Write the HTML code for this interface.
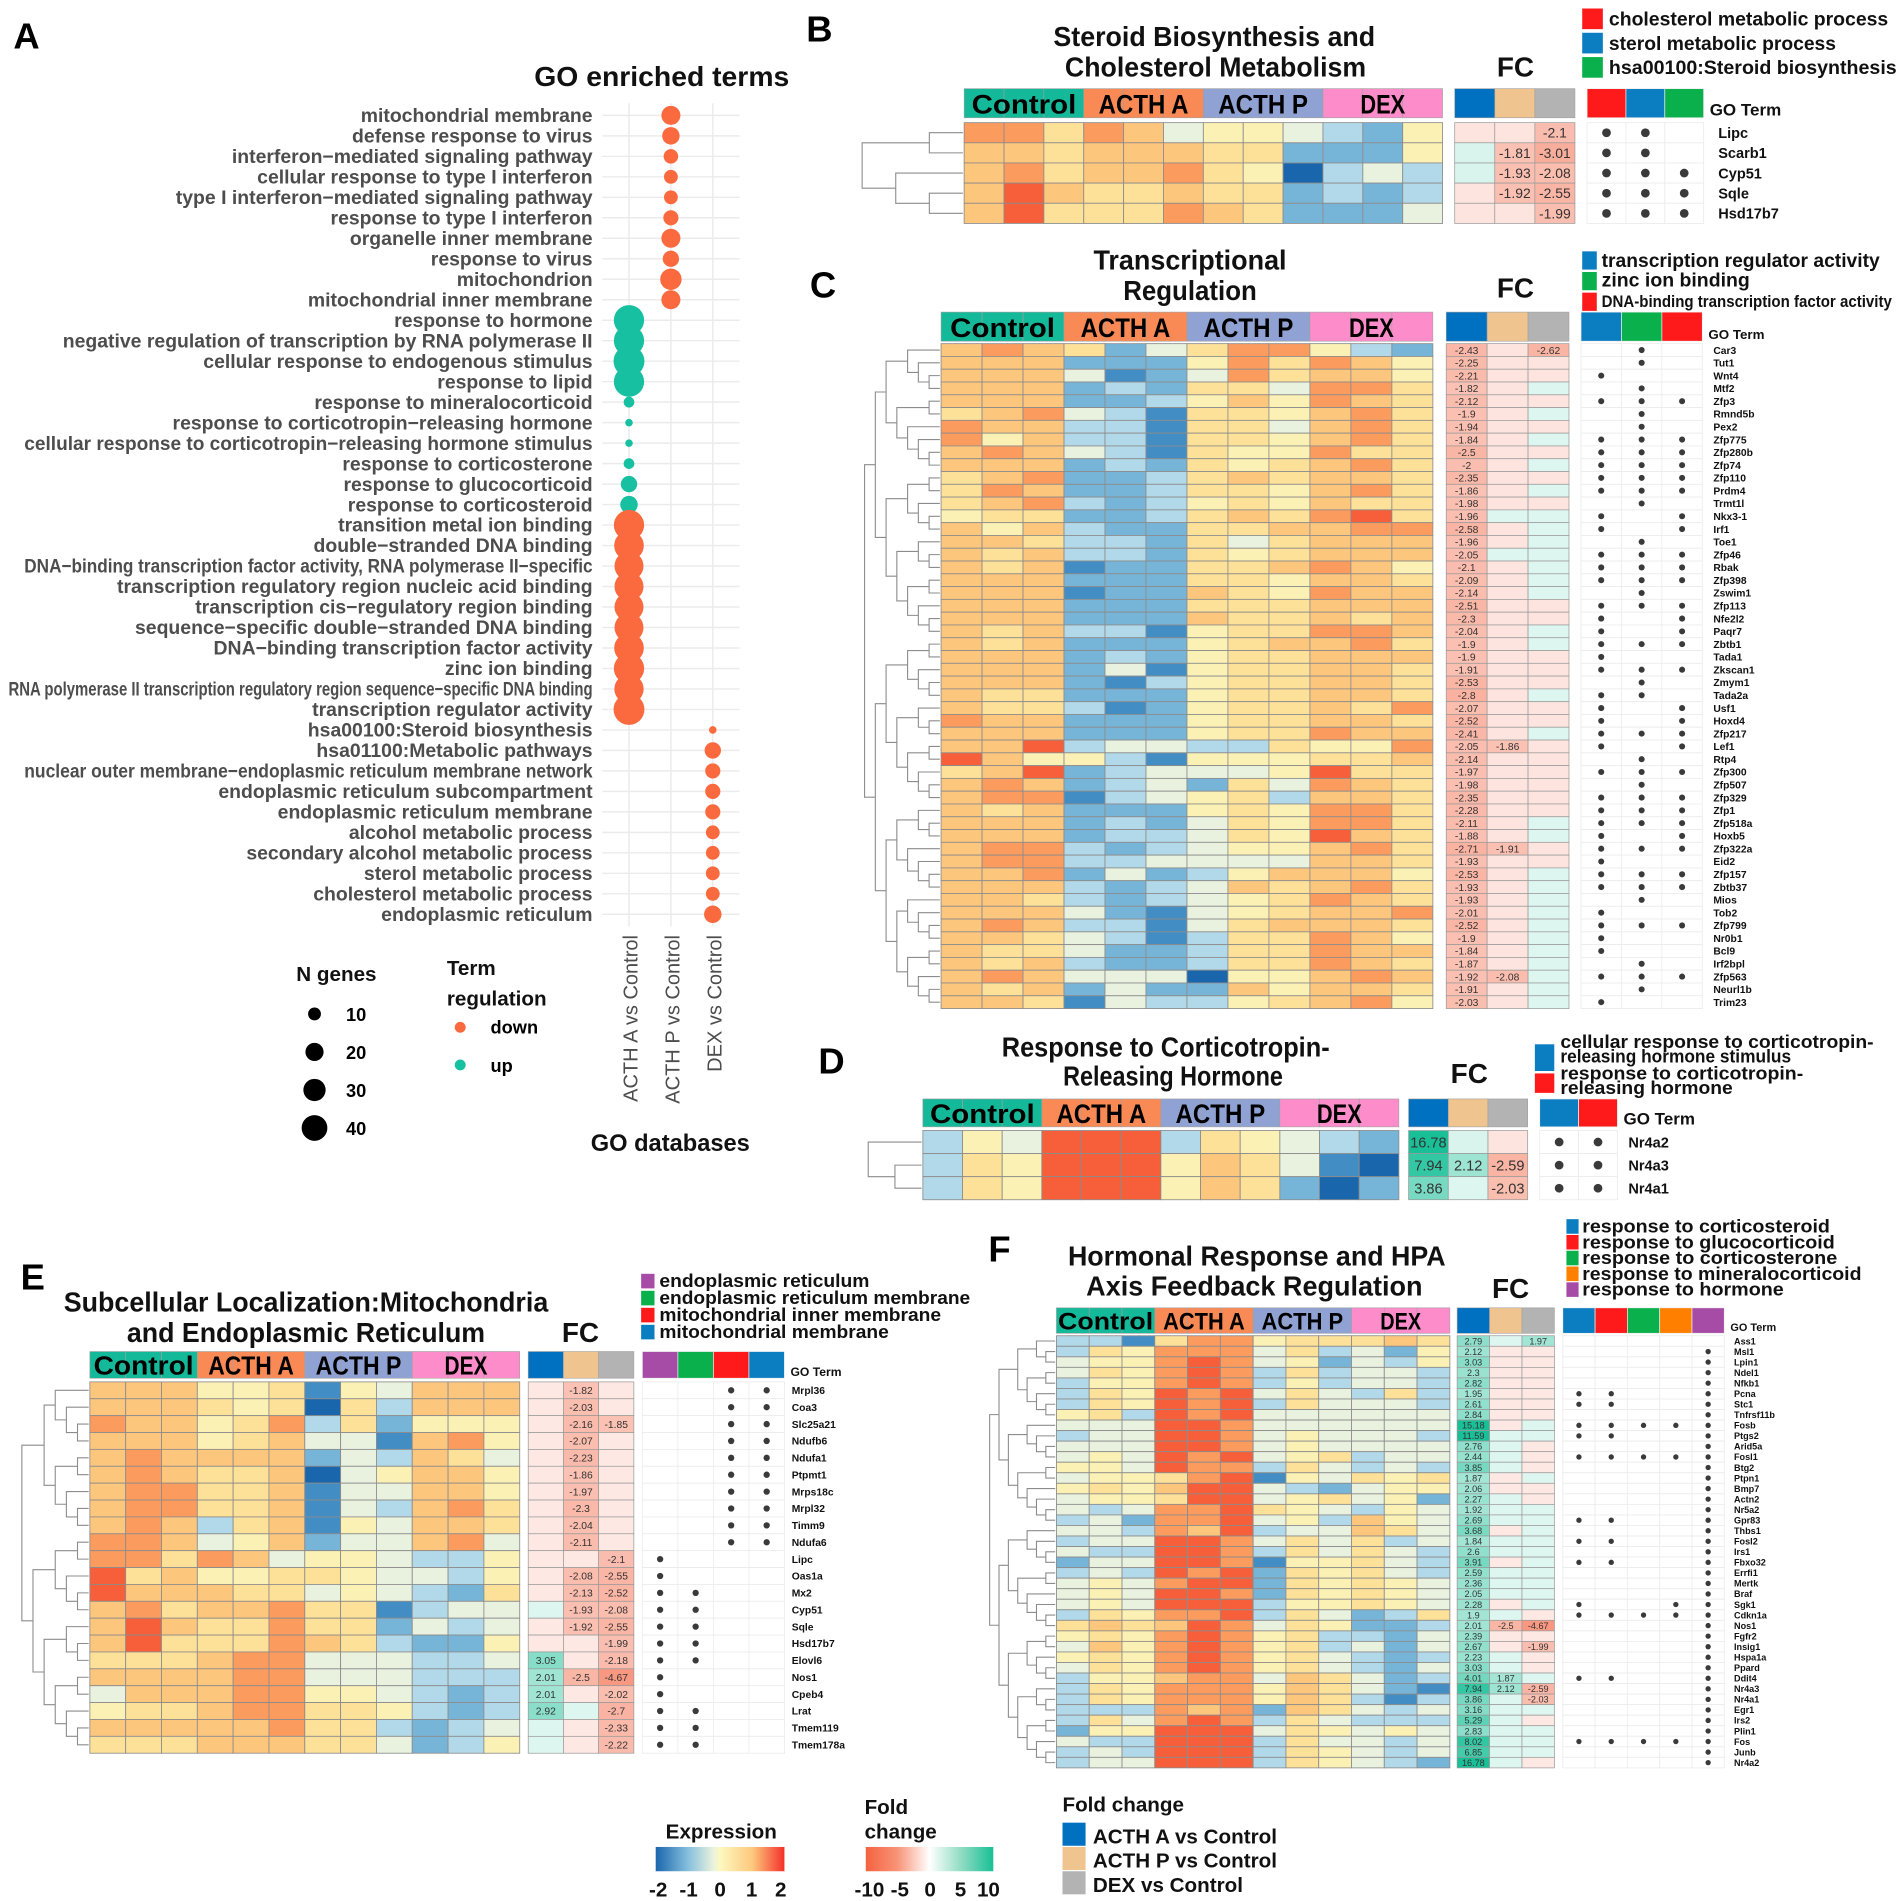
<!DOCTYPE html>
<html><head><meta charset="utf-8">
<style>
html,body{margin:0;padding:0;background:#fff;}
svg{display:block;font-family:"Liberation Sans",Arial,sans-serif;}
.pl{font-weight:bold;font-size:30px;fill:#000;}
.ti{font-weight:bold;font-size:23px;fill:#111;}
.lg{font-weight:bold;fill:#111;}
.al{font-weight:bold;font-size:16px;fill:#4d4d4d;}
</style></head>
<body>
<svg id="chart" xmlns="http://www.w3.org/2000/svg" width="1904" height="1901" viewBox="0 0 1568 1565.5" preserveAspectRatio="none">
<defs>
<linearGradient id="gExpr" x1="0" x2="1" y1="0" y2="0">
<stop offset="0" stop-color="#1a66ac"/><stop offset="0.25" stop-color="#85bfdd"/><stop offset="0.45" stop-color="#eaf3dd"/><stop offset="0.5" stop-color="#fdf8c0"/><stop offset="0.75" stop-color="#fdc97d"/><stop offset="1" stop-color="#f4302a"/>
</linearGradient>
<linearGradient id="gFc" x1="0" x2="1" y1="0" y2="0">
<stop offset="0" stop-color="#f4623f"/><stop offset="0.25" stop-color="#f89478"/><stop offset="0.5" stop-color="#ffffff"/><stop offset="0.75" stop-color="#8fdcc3"/><stop offset="1" stop-color="#19bf96"/>
</linearGradient>
</defs>

<!-- panel letters -->
<text class="pl" x="11" y="40">A</text>
<text class="pl" x="664" y="34">B</text>
<text class="pl" x="667" y="245">C</text>
<text class="pl" x="674" y="884">D</text>
<text class="pl" x="17" y="1062">E</text>
<text class="pl" x="814" y="1039">F</text>

<!-- Panel A static -->
<text class="ti" x="545" y="71" text-anchor="middle" font-size="24" textLength="210" lengthAdjust="spacingAndGlyphs">GO enriched terms</text>
<text class="lg" x="552" y="948" text-anchor="middle" font-size="19.5">GO databases</text>
<text class="lg" x="244" y="808" font-size="17">N genes</text>
<text class="lg" x="368" y="803" font-size="17">Term</text>
<text class="lg" x="368" y="828" font-size="17">regulation</text>

<!-- Panel titles -->
<g>
<text class="ti" x="1000" y="38" text-anchor="middle" textLength="265" lengthAdjust="spacingAndGlyphs">Steroid Biosynthesis and</text>
<text class="ti" x="1001" y="63" text-anchor="middle" textLength="248" lengthAdjust="spacingAndGlyphs">Cholesterol Metabolism</text>
<text class="ti" x="1248" y="63" text-anchor="middle">FC</text>
<text class="ti" x="980" y="222" text-anchor="middle" textLength="159" lengthAdjust="spacingAndGlyphs">Transcriptional</text>
<text class="ti" x="980" y="247" text-anchor="middle" textLength="110" lengthAdjust="spacingAndGlyphs">Regulation</text>
<text class="ti" x="1248" y="245" text-anchor="middle">FC</text>
<text class="ti" x="960" y="870" text-anchor="middle" textLength="270" lengthAdjust="spacingAndGlyphs">Response to Corticotropin-</text>
<text class="ti" x="966" y="894" text-anchor="middle" textLength="181" lengthAdjust="spacingAndGlyphs">Releasing Hormone</text>
<text class="ti" x="1210" y="892" text-anchor="middle">FC</text>
<text class="ti" x="252" y="1080" text-anchor="middle" textLength="399" lengthAdjust="spacingAndGlyphs">Subcellular Localization:Mitochondria</text>
<text class="ti" x="252" y="1105" text-anchor="middle" textLength="295" lengthAdjust="spacingAndGlyphs">and Endoplasmic Reticulum</text>
<text class="ti" x="478" y="1105" text-anchor="middle">FC</text>
<text class="ti" x="1035" y="1042" text-anchor="middle" textLength="311" lengthAdjust="spacingAndGlyphs">Hormonal Response and HPA</text>
<text class="ti" x="1033" y="1067" text-anchor="middle" textLength="277" lengthAdjust="spacingAndGlyphs">Axis Feedback Regulation</text>
<text class="ti" x="1244" y="1069" text-anchor="middle">FC</text>
</g>

<!-- GO legends -->
<g class="lg" font-size="16">
<rect x="1303" y="7" width="17" height="17" fill="#fe1a1a"/>
<text x="1325" y="21" textLength="230" lengthAdjust="spacingAndGlyphs">cholesterol metabolic process</text>
<rect x="1303" y="27" width="17" height="17" fill="#0b7dc1"/>
<text x="1325" y="41" textLength="187" lengthAdjust="spacingAndGlyphs">sterol metabolic process</text>
<rect x="1303" y="47" width="17" height="17" fill="#0ab04b"/>
<text x="1325" y="61" textLength="237" lengthAdjust="spacingAndGlyphs">hsa00100:Steroid biosynthesis</text>

<rect x="1303" y="207" width="12" height="15" fill="#0b7dc1"/>
<text x="1319" y="220" textLength="229" lengthAdjust="spacingAndGlyphs">transcription regulator activity</text>
<rect x="1303" y="224" width="12" height="15" fill="#0ab04b"/>
<text x="1319" y="236" textLength="122" lengthAdjust="spacingAndGlyphs">zinc ion binding</text>
<rect x="1303" y="241" width="12" height="15" fill="#fe1a1a"/>
<text x="1319" y="253" font-size="14" textLength="239" lengthAdjust="spacingAndGlyphs">DNA-binding transcription factor activity</text>

<rect x="1264" y="860" width="16" height="22" fill="#0b7dc1"/>
<text x="1285" y="863" font-size="15" textLength="258" lengthAdjust="spacingAndGlyphs">cellular response to corticotropin-</text>
<text x="1285" y="875" font-size="15" textLength="190" lengthAdjust="spacingAndGlyphs">releasing hormone stimulus</text>
<rect x="1264" y="884" width="16" height="16" fill="#fe1a1a"/>
<text x="1285" y="889" font-size="15" textLength="200" lengthAdjust="spacingAndGlyphs">response to corticotropin-</text>
<text x="1285" y="901" font-size="15" textLength="142" lengthAdjust="spacingAndGlyphs">releasing hormone</text>

<rect x="528" y="1049" width="11" height="12" fill="#a64ca6"/>
<text x="543" y="1060" font-size="15.5" textLength="173" lengthAdjust="spacingAndGlyphs">endoplasmic reticulum</text>
<rect x="528" y="1063" width="11" height="12" fill="#0ab04b"/>
<text x="543" y="1074" font-size="15.5" textLength="256" lengthAdjust="spacingAndGlyphs">endoplasmic reticulum membrane</text>
<rect x="528" y="1077" width="11" height="12" fill="#fe1a1a"/>
<text x="543" y="1088" font-size="15.5" textLength="232" lengthAdjust="spacingAndGlyphs">mitochondrial inner membrane</text>
<rect x="528" y="1091" width="11" height="12" fill="#0b7dc1"/>
<text x="543" y="1102" font-size="15.5" textLength="189" lengthAdjust="spacingAndGlyphs">mitochondrial membrane</text>

<rect x="1290" y="1004" width="10" height="12" fill="#0b7dc1"/>
<text x="1303" y="1015" font-size="15" textLength="204" lengthAdjust="spacingAndGlyphs">response to corticosteroid</text>
<rect x="1290" y="1017" width="10" height="12" fill="#fe1a1a"/>
<text x="1303" y="1028" font-size="15" textLength="208" lengthAdjust="spacingAndGlyphs">response to glucocorticoid</text>
<rect x="1290" y="1030" width="10" height="12" fill="#0ab04b"/>
<text x="1303" y="1041" font-size="15" textLength="210" lengthAdjust="spacingAndGlyphs">response to corticosterone</text>
<rect x="1290" y="1043" width="10" height="12" fill="#ff8000"/>
<text x="1303" y="1054" font-size="15" textLength="230" lengthAdjust="spacingAndGlyphs">response to mineralocorticoid</text>
<rect x="1290" y="1056" width="10" height="12" fill="#a64ca6"/>
<text x="1303" y="1067" font-size="15" textLength="166" lengthAdjust="spacingAndGlyphs">response to hormone</text>
</g>

<!-- bottom legends -->
<g class="lg" font-size="17">
<text x="594" y="1514" text-anchor="middle">Expression</text>
<rect x="540" y="1521" width="106" height="20" fill="url(#gExpr)"/>
<text x="542" y="1562" text-anchor="middle">-2</text>
<text x="567" y="1562" text-anchor="middle">-1</text>
<text x="593" y="1562" text-anchor="middle">0</text>
<text x="619" y="1562" text-anchor="middle">1</text>
<text x="643" y="1562" text-anchor="middle">2</text>
<text x="712" y="1494">Fold</text>
<text x="712" y="1514">change</text>
<rect x="713" y="1521" width="105" height="20" fill="url(#gFc)"/>
<text x="716" y="1562" text-anchor="middle">-10</text>
<text x="741" y="1562" text-anchor="middle">-5</text>
<text x="766" y="1562" text-anchor="middle">0</text>
<text x="791" y="1562" text-anchor="middle">5</text>
<text x="814" y="1562" text-anchor="middle">10</text>
<text x="875" y="1492">Fold change</text>
<rect x="875" y="1501" width="19" height="19" fill="#0070c0"/>
<text x="900" y="1518">ACTH A vs Control</text>
<rect x="875" y="1521" width="19" height="19" fill="#f0c48f"/>
<text x="900" y="1538">ACTH P vs Control</text>
<rect x="875" y="1541" width="19" height="19" fill="#b3b3b3"/>
<text x="900" y="1558">DEX vs Control</text>
</g>
</svg>

<script>
// ===== Panel A data =====
const goTerms = ["mitochondrial membrane","defense response to virus","interferon\u2212mediated signaling pathway","cellular response to type I interferon","type I interferon\u2212mediated signaling pathway","response to type I interferon","organelle inner membrane","response to virus","mitochondrion","mitochondrial inner membrane","response to hormone","negative regulation of transcription by RNA polymerase II","cellular response to endogenous stimulus","response to lipid","response to mineralocorticoid","response to corticotropin\u2212releasing hormone","cellular response to corticotropin\u2212releasing hormone stimulus","response to corticosterone","response to glucocorticoid","response to corticosteroid","transition metal ion binding","double\u2212stranded DNA binding","DNA\u2212binding transcription factor activity, RNA polymerase II\u2212specific","transcription regulatory region nucleic acid binding","transcription cis\u2212regulatory region binding","sequence\u2212specific double\u2212stranded DNA binding","DNA\u2212binding transcription factor activity","zinc ion binding","RNA polymerase II transcription regulatory region sequence\u2212specific DNA binding","transcription regulator activity","hsa00100:Steroid biosynthesis","hsa01100:Metabolic pathways","nuclear outer membrane\u2212endoplasmic reticulum membrane network","endoplasmic reticulum subcompartment","endoplasmic reticulum membrane","alcohol metabolic process","secondary alcohol metabolic process","sterol metabolic process","cholesterol metabolic process","endoplasmic reticulum"];
const goComparison = [1,1,1,1,1,1,1,1,1,1,0,0,0,0,0,0,0,0,0,0,0,0,0,0,0,0,0,0,0,0,2,2,2,2,2,2,2,2,2,2];
const goDirection = ["down","down","down","down","down","down","down","down","down","down","up","up","up","up","up","up","up","up","up","up","down","down","down","down","down","down","down","down","down","down","down","down","down","down","down","down","down","down","down","down"];
const goGenes = [19,16,11,10,10,12,19,14,24,19,48,48,50,48,6,3,3,6,14,16,48,46,44,44,44,44,46,48,45,50,3,14,12,12,12,10,10,10,10,16];
const comparisonLabels = ["ACTH A vs Control","ACTH P vs Control","DEX vs Control"];
const sizeLegendValues = [10,20,30,40];

// ===== Heatmap data (digits 0..9 map to z-score -2..2) =====
const bGenes = ["Lipc","Scarb1","Cyp51","Sqle","Hsd17b7"];
const bExpr = ["886874554325","776777662225","786778650343","797667662323","796668762224"];
const bFC1 = [-0.4,0.4,0.4,-0.4,-0.4];
const bFC2 = [-0.4,-1.81,-1.93,-1.92,-0.4];
const bFC3 = [-2.1,-3.01,-2.08,-2.55,-1.99];
const bGO = ["110","110","111","111","111"];

const cGenes = ["Car3","Tut1","Wnt4","Mtf2","Zfp3","Rmnd5b","Pex2","Zfp775","Zfp280b","Zfp74","Zfp110","Prdm4","Trmt1l","Nkx3-1","Irf1","Toe1","Zfp46","Rbak","Zfp398","Zswim1","Zfp113","Nfe2l2","Paqr7","Zbtb1","Tada1","Zkscan1","Zmym1","Tada2a","Usf1","Hoxd4","Zfp217","Lef1","Rtp4","Zfp300","Zfp507","Zfp329","Zfp1","Zfp518a","Hoxb5","Zfp322a","Eid2","Zfp157","Zbtb37","Mios","Tob2","Zfp799","Nr0b1","Bcl9","Irf2bpl","Zfp563","Neurl1b","Trim23"];
const cExpr = ["787624688532","777222586875","777412486775","777232664886","777223575876","678431665786","877331664786","857331665786","787431655866","777232656786","678223676776","687223665786","678323565766","566223676896","757322667788","776332646777","767332656777","767122667875","777222665776","777122765877",
"777222666777","777222766767","767331566887","767222567786","777232566777","777241566776","777213566776","766222566776","766312566768","877222566776","777222566877","779344336558","975531555667","679234445966","787234264876","788134563776","767222565886","777232465886","777233465976","788323455786","788334444776","778242357775","777323476786","776323456876","777421456778","787331467776","776431366875","766422366877","767322366876","787444055787","767242275776","776143356785"];
const cFC1 = [-2.43,-2.25,-2.21,-1.82,-2.12,-1.9,-1.94,-1.84,-2.5,-2,-2.35,-1.86,-1.98,-1.96,-2.58,-1.96,-2.05,-2.1,-2.09,-2.14,-2.51,-2.3,-2.04,-1.9,-1.9,-1.91,-2.53,-2.8,-2.07,-2.52,-2.41,-2.05,-2.14,-1.97,-1.98,-2.35,-2.28,-2.11,-1.88,-2.71,-1.93,-2.53,-1.93,-1.93,-2.01,-2.52,-1.9,-1.84,-1.87,-1.92,-1.91,-2.03];
const cFC2 = [-0.4,-0.4,-0.4,-0.4,-0.4,-0.4,-0.4,-0.4,-0.4,-0.4,-0.4,-0.4,-0.4,0.3,-0.4,-0.4,0.3,-0.4,-0.4,-0.4,-0.4,-0.4,-0.4,-0.4,-0.4,-0.4,-0.4,-0.4,-0.4,-0.4,-0.4,-1.86,-0.4,-0.4,-0.4,-0.4,-0.4,-0.4,-0.4,-1.91,-0.4,-0.4,-0.4,-0.4,-0.4,-0.4,-0.4,-0.4,-0.4,-2.08,-0.4,-0.4];
const cFC3 = [-2.62,-0.4,-0.4,0.3,-0.4,0.3,-0.4,0.3,-0.4,0.3,-0.4,0.3,-0.4,0.3,0.3,0.3,0.3,0.3,0.3,0.3,-0.4,-0.4,0.3,0.3,-0.4,-0.4,-0.4,0.3,-0.4,-0.4,0.3,-0.4,-0.4,-0.4,-0.4,-0.4,-0.4,0.3,0.3,-0.4,-0.4,0.3,0.3,0.3,0.3,0.3,0.3,0.3,0.3,0.3,0.3,0.3];
const cGO = ["010","010","100","010","111","010","010","111","111","111","111","111","010","101","101","010","111","111","111","010","111","101","101","111","100","111","010","110","101","101","111","101","010","111","010","111","111","111","101","111","100","111","111","010","100","111","100","100","010","111","010","100"];

const dGenes = ["Nr4a2","Nr4a3","Nr4a1"];
const dExpr = ["354999365432","365999576410","365999576202"];
const dFC1 = [16.78,7.94,3.86];
const dFC2 = [0.4,2.12,0.3];
const dFC3 = [-0.4,-2.59,-2.03];
const dGO = ["11","11","11"];

const eGenes = ["Mrpl36","Coa3","Slc25a21","Ndufb6","Ndufa1","Ptpmt1","Mrps18c","Mrpl32","Timm9","Ndufa6","Lipc","Oas1a","Mx2","Cyp51","Sqle","Hsd17b7","Elovl6","Nos1","Cpeb4","Lrat","Tmem119","Tmem178a"];
const eExpr = ["777556154777","777656063777","877568362555","777567441785","787777243764","787667045775","788667144775","788667143786","787367154776","887457244784","886874554335","967556654435","977766454326","786778661344","797668662434","796668763225","666788444334","777788444333","477788554323","566788665323","777778663234","666777664235"];
const eFC1 = [-0.3,-0.3,-0.3,-0.3,-0.3,-0.3,-0.3,-0.3,-0.3,-0.3,-0.3,-0.3,-0.3,0.3,-0.3,-0.3,3.05,2.01,2.01,2.92,0.3,0.3];
const eFC2 = [-1.82,-2.03,-2.16,-2.07,-2.23,-1.86,-1.97,-2.3,-2.04,-2.11,-0.3,-2.08,-2.13,-1.93,-1.92,-0.3,-0.3,-2.5,-0.3,0.3,-0.3,-0.3];
const eFC3 = [-0.3,-0.3,-1.85,-0.3,-0.3,-0.3,-0.3,-0.3,-0.3,-0.3,-2.1,-2.55,-2.52,-2.08,-2.55,-1.99,-2.18,-4.67,-2.02,-2.7,-2.33,-2.22];
const eGO = ["0011","0011","0011","0011","0011","0011","0011","0011","0011","0011","1000","1000","1100","1100","1100","1100","1100","1000","1000","1100","1100","1100"];

const fGenes = ["Ass1","Msl1","Lpin1","Ndel1","Nfkb1","Pcna","Stc1","Tnfrsf11b","Fosb","Ptgs2","Arid5a","Fosl1","Btg2","Ptpn1","Bmp7","Actn2","Nr5a2","Gpr83","Thbs1","Fosl2","Irs1","Fbxo32","Errfi1","Mertk","Braf","Sgk1","Cdkn1a","Nos1","Fgfr2","Insig1","Hspa1a","Ppard","Ddit4","Nr4a3","Nr4a1","Egr1","Irs2","Plin1","Fos","Junb","Nr4a2"];
const fExpr = ["331688566676","365888463425","455898452435","465898363443","355898353443","365989464363","365989364443","563989444444","444998444444","344998454443","444998454444","454989456344","554988364343","455689154656","565799432455","455699456452","434889654354","342889453754","443879344764","344998464634","433998364643","244998155643","343989265643","454899265654","454998265654","454999355654","365889364236","676798465223","565898563324","475898563424","565898564323","465898564324","355788476423","365888576421","365888576313","333878276434","364898364333","255999465454","433999364434","343999365434","344999365432"];
const fFC1 = [2.79,2.12,3.03,2.3,2.82,1.95,2.61,2.84,15.18,11.59,2.76,2.44,3.85,1.87,2.06,2.27,1.92,2.69,3.68,1.84,2.6,3.91,2.59,2.36,2.05,2.28,1.9,2.01,2.39,2.67,2.23,3.03,4.01,7.94,3.86,3.16,5.29,2.83,8.02,6.85,16.78];
const fFC2 = [0.3,-0.3,-0.3,-0.3,-0.3,-0.3,-0.3,-0.3,-0.3,0.3,0.3,0.3,0.3,-0.3,-0.3,0.3,0.3,0.3,-0.3,0.3,0.3,-0.3,0.3,0.3,0.3,-0.3,0.3,-2.5,-0.3,-0.3,0.3,0.3,1.87,2.12,0.3,0.3,0.3,0.3,0.3,0.3,0.3];
const fFC3 = [1.97,-0.3,-0.3,-0.3,-0.3,-0.3,-0.3,-0.3,0.3,0.3,-0.3,-0.3,-0.3,0.3,-0.3,-0.3,0.3,0.3,0.3,0.3,0.3,0.3,0.3,0.3,0.3,0.3,-0.3,-4.67,-0.3,-1.99,-0.3,-0.3,0.3,-2.59,-2.03,0.3,-0.3,0.3,0.3,0.3,-0.3];
const fGO = ["00000","00001","00001","00001","00001","11001","11001","00001","11111","11001","00001","11111","00001","00001","00001","00001","00001","11001","00001","11001","00001","11001","00001","00001","00001","10011","11111","00001","00001","00001","00001","00001","11001","00001","00001","00001","00001","00001","11111","00001","00001"];

// ===== drawing =====
const NS = 'http://www.w3.org/2000/svg';
const svg = document.getElementById('chart');
function mk(tag, attrs, parent) {
  const e = document.createElementNS(NS, tag);
  for (const k in attrs) e.setAttribute(k, attrs[k]);
  (parent || svg).appendChild(e);
  return e;
}
function hex(c){return [parseInt(c.slice(1,3),16),parseInt(c.slice(3,5),16),parseInt(c.slice(5,7),16)];}
function mix(a,b,t){const A=hex(a),B=hex(b);return 'rgb('+A.map((v,i)=>Math.round(v+(B[i]-v)*t)).join(',')+')';}
const exprStops = [[-2,'#1a66ac'],[-1.5,'#4793c7'],[-1,'#85bfdd'],[-0.5,'#c9e6ef'],[-0.2,'#eaf3dd'],[0,'#fbf6c2'],[0.5,'#feeaa2'],[1,'#fdd085'],[1.5,'#fca263'],[2,'#f65f3a']];
function exprColor(z){
  z=Math.max(-2,Math.min(2,z));
  for(let i=0;i<exprStops.length-1;i++){const a=exprStops[i],b=exprStops[i+1];if(z<=b[0]) return mix(a[1],b[1],(z-a[0])/(b[0]-a[0]));}
  return exprStops[exprStops.length-1][1];
}
function fcColor(v){
  const t=Math.min(1,Math.pow(Math.abs(v)/10,0.55));
  return v<0?mix('#ffffff','#f4623f',t):mix('#ffffff','#19bf96',t);
}
function digitZ(ch){return (Number(ch)-4.5)/2.25;}

// --- Panel A ---
const aRow0 = 95, aRowStep = 16.87;
function aY(i){return aRow0 + i*aRowStep;}
function aX(c){return 518 + c*34.5;}
function aR(n){return 1.8*Math.sqrt(n);}
const gA = mk('g',{});


for(let i=0;i<goTerms.length;i++){
  const gl = mk('line',{x1:496,x2:609,y1:aY(i),y2:aY(i),stroke:'#ebebeb','stroke-width':1.2},gA);
  
  
}
for(let c=0;c<3;c++){
  const vl = mk('line',{x1:aX(c),x2:aX(c),y1:85,y2:763,stroke:'#ebebeb','stroke-width':1.2},gA);
  
  
  const xl = mk('text',{x:0,y:0,transform:'translate('+(aX(c)+7)+',770) rotate(-90)','text-anchor':'end','font-size':16.5,fill:'#4d4d4d'},gA);
  xl.textContent = comparisonLabels[c];
  
  
}
for(let i=0;i<goTerms.length;i++){
  const t = mk('text',{x:488,y:aY(i)+5.5,'text-anchor':'end',class:'al'},gA);
  t.textContent = goTerms[i];
  
  
  let maxW = goTerms[i].startsWith('RNA polymerase II transcription') ? 481 : 468;
  let w = 0;
  try { w = t.getComputedTextLength(); } catch(e) { w = 0; }
  if (w > maxW || goTerms[i].startsWith('RNA polymerase II transcription')) {
    t.setAttribute('textLength', maxW);
    t.setAttribute('lengthAdjust','spacingAndGlyphs');
  }
}
for(let i=0;i<goTerms.length;i++){
  const d = mk('circle',{cx:aX(goComparison[i]),cy:aY(i),r:aR(goGenes[i]),fill:goDirection[i]==='up'?'#16c0a0':'#fb6a3f'},gA);
  
  
}
for(let i=0;i<sizeLegendValues.length;i++){
  const cy = 835 + i*31.3;
  const c = mk('circle',{cx:259,cy:cy,r:aR(sizeLegendValues[i])*0.93,fill:'#000'});
  
  
  const t = mk('text',{x:285,y:cy+6,'font-size':15,'font-weight':'bold'});
  t.textContent = String(sizeLegendValues[i]);
  
  
}
const dn = mk('circle',{cx:379,cy:846,r:4.5,fill:'#fb6a3f'});


const dnt = mk('text',{x:404,y:851,'font-size':15,'font-weight':'bold'}); dnt.textContent='down';


const up = mk('circle',{cx:379,cy:877,r:4.5,fill:'#16c0a0'});


const upt = mk('text',{x:404,y:883,'font-size':15,'font-weight':'bold'}); upt.textContent='up';



// --- heatmap panels ---
const groupNames = ["Control","ACTH A","ACTH P","DEX"];
const groupColors = ["#14b99a","#fa8a55","#8fa2d3","#fc8dca"];
const fcHeadColors = ["#0070c0","#f0c48f","#b3b3b3"];

function dendro(g, x0, x1, yTop, rowH, n){
  function build(lo,hi){
    if(lo===hi) return {y:yTop+(lo+0.5)*rowH,h:0,lo:lo,hi:hi};
    const mid = lo + Math.max(0,Math.floor((hi-lo+1)*0.45)-1);
    const L=build(lo,mid), R=build(mid+1,hi);
    return {y:(L.y+R.y)/2,h:Math.max(L.h,R.h)+1,L:L,R:R};
  }
  const root=build(0,n-1);
  const H=root.h;
  function xh(h){return x1 - h*(x1-x0)/H;}
  function draw(nd){
    if(!nd.L) return;
    const x=xh(nd.h);
    const p = mk('path',{d:'M'+xh(nd.L.h)+','+nd.L.y+'H'+x+'V'+nd.R.y+'H'+xh(nd.R.h),fill:'none',stroke:'#8c8c8c','stroke-width':0.9},g);
    
    
    draw(nd.L); draw(nd.R);
  }
  draw(root);
}

function heatPanel(p){
  const g = mk('g',{});
  
  
  const n = p.genes.length;
  const cw = (p.x1-p.x0)/12;
  for(let k=0;k<12;k++){
    const r = mk('rect',{x:p.x0+k*cw,y:p.hy0,width:cw,height:p.hy1-p.hy0,fill:groupColors[Math.floor(k/3)],stroke:'#a0a0a0','stroke-width':0.5},g);
    
    
  }
  for(let gi=0;gi<4;gi++){
    const t = mk('text',{x:p.x0+(gi*3+1.5)*cw,y:p.hy1-(p.hy1-p.hy0)*0.14,'text-anchor':'middle','font-size':p.hfs,'font-weight':'bold',fill:'#000',textLength:Math.min(cw*2.9,p.hfs*(groupNames[gi].length*0.56)),lengthAdjust:'spacingAndGlyphs'},g);
    t.textContent = groupNames[gi];
    
    
  }
  for(let k=0;k<3;k++){
    const r = mk('rect',{x:p.fcX0+k*p.fcW,y:p.hy0,width:p.fcW,height:p.hy1-p.hy0,fill:fcHeadColors[k],stroke:'#a0a0a0','stroke-width':0.5},g);
    
    
  }
  for(let k=0;k<p.goColors.length;k++){
    const r = mk('rect',{x:p.goX0+k*p.goW,y:p.hy0,width:p.goW,height:p.hy1-p.hy0,fill:p.goColors[k],stroke:'#eeeeee','stroke-width':0.6},g);
    
    
  }
  const gt = mk('text',{x:p.goX0+p.goColors.length*p.goW+5,y:p.hy1-2,'font-size':p.gtfs,'font-weight':'bold',fill:'#111'},g);
  gt.textContent='GO Term';
  
  
  for(let i=0;i<n;i++){
    const y = p.y0 + i*p.rowH;
    for(let k=0;k<12;k++){
      const c = mk('rect',{x:p.x0+k*cw,y:y,width:cw,height:p.rowH,fill:exprColor(digitZ(p.expr[i][k])),stroke:'#8c8c8c','stroke-width':0.7},g);
      
      
    }
    const fcs=[p.fc1[i],p.fc2[i],p.fc3[i]];
    for(let k=0;k<3;k++){
      const c = mk('rect',{x:p.fcX0+k*p.fcW,y:y,width:p.fcW,height:p.rowH,fill:fcColor(fcs[k]),stroke:'#9a9a9a','stroke-width':0.6},g);
      
      
      if(Math.abs(fcs[k])>=1.5){
        const t = mk('text',{x:p.fcX0+(k+0.5)*p.fcW,y:y+p.rowH*0.5+p.fcfs*0.36,'text-anchor':'middle','font-size':p.fcfs,fill:'#333'},g);
        t.textContent=String(fcs[k]);
        
        
      }
    }
    for(let k=0;k<p.goColors.length;k++){
      const c = mk('rect',{x:p.goX0+k*p.goW,y:y,width:p.goW,height:p.rowH,fill:'#fff',stroke:'#ececec','stroke-width':0.7},g);
      
      
      if(p.go[i][k]==='1'){
        const d = mk('circle',{cx:p.goX0+(k+0.5)*p.goW,cy:y+p.rowH/2,r:p.dotR,fill:'#3a3a3a'},g);
        
        
      }
    }
    const lab = mk('text',{x:p.labX,y:y+p.rowH*0.5+p.labfs*0.36,'font-size':p.labfs,'font-weight':'bold',fill:'#111'},g);
    lab.textContent=p.genes[i];
    
    
  }
  dendro(g,p.dx0,p.x0-1,p.y0,p.rowH,n);
}

heatPanel({name:'panel-b-heatmap',genes:bGenes,expr:bExpr,fc1:bFC1,fc2:bFC2,fc3:bFC3,go:bGO,goColors:['#fe1a1a','#0b7dc1','#0ab04b'],
  x0:794,x1:1188,hy0:73,hy1:97,y0:101,rowH:16.6,fcX0:1198,fcW:33,goX0:1307,goW:32,labX:1415,labfs:12,fcfs:11.5,dotR:3.6,hfs:22,gtfs:14,dx0:710});
heatPanel({name:'panel-c-heatmap',genes:cGenes,expr:cExpr,fc1:cFC1,fc2:cFC2,fc3:cFC3,go:cGO,goColors:['#0b7dc1','#0ab04b','#fe1a1a'],
  x0:775,x1:1180,hy0:257,hy1:281,y0:283,rowH:10.53,fcX0:1191,fcW:33.7,goX0:1302,goW:33.3,labX:1411,labfs:8.5,fcfs:8.5,dotR:2.5,hfs:22,gtfs:11,dx0:712});
heatPanel({name:'panel-d-heatmap',genes:dGenes,expr:dExpr,fc1:dFC1,fc2:dFC2,fc3:dFC3,go:dGO,goColors:['#0b7dc1','#fe1a1a'],
  x0:760,x1:1152,hy0:905,hy1:928,y0:931,rowH:19,fcX0:1160,fcW:32.7,goX0:1268,goW:32,labX:1341,labfs:12,fcfs:12,dotR:3.6,hfs:22,gtfs:14,dx0:715});
heatPanel({name:'panel-e-heatmap',genes:eGenes,expr:eExpr,fc1:eFC1,fc2:eFC2,fc3:eFC3,go:eGO,goColors:['#a64ca6','#0ab04b','#fe1a1a','#0b7dc1'],
  x0:74,x1:428,hy0:1113,hy1:1135,y0:1138,rowH:13.9,fcX0:435,fcW:29,goX0:529,goW:29.25,labX:652,labfs:8.5,fcfs:8.5,dotR:2.6,hfs:21,gtfs:10,dx0:18});
heatPanel({name:'panel-f-heatmap',genes:fGenes,expr:fExpr,fc1:fFC1,fc2:fFC2,fc3:fFC3,go:fGO,goColors:['#0b7dc1','#fe1a1a','#0ab04b','#ff8000','#a64ca6'],
  x0:870,x1:1194,hy0:1077,hy1:1098,y0:1100,rowH:8.68,fcX0:1200,fcW:26.7,goX0:1287,goW:26.6,labX:1428,labfs:7.5,fcfs:7.5,dotR:2.2,hfs:20,gtfs:9,dx0:815});
</script>
</body></html>
